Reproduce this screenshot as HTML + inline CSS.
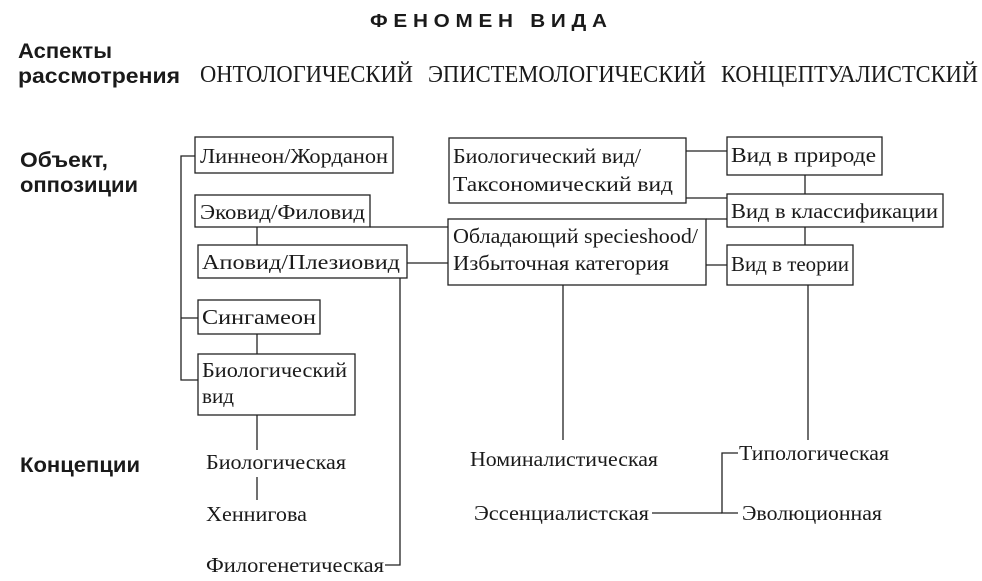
<!DOCTYPE html>
<html><head><meta charset="utf-8"><style>
html,body{margin:0;padding:0;background:#fff;}
svg{display:block;}
.s{font-family:"Liberation Serif",serif;font-size:21px;fill:#1a1a1a;}
.b{font-family:"Liberation Sans",sans-serif;font-weight:bold;font-size:21px;fill:#1a1a1a;}
.a{font-family:"Liberation Serif",serif;font-size:24px;fill:#1a1a1a;}
rect{fill:#fff;stroke:#222;stroke-width:1.3;}
line,polyline{stroke:#222;stroke-width:1.3;fill:none;}
</style></head><body>
<svg width="982" height="581" viewBox="0 0 982 581">
<text class="b" x="370" y="27" textLength="237" lengthAdjust="spacingAndGlyphs" style="font-size:18px">Ф Е Н О М Е Н &#160; В И Д А</text>
<text class="b" x="18" y="58" textLength="94" lengthAdjust="spacingAndGlyphs">Аспекты</text>
<text class="b" x="18" y="83" textLength="162" lengthAdjust="spacingAndGlyphs">рассмотрения</text>
<text class="a" x="200" y="82" textLength="213" lengthAdjust="spacingAndGlyphs">ОНТОЛОГИЧЕСКИЙ</text>
<text class="a" x="428" y="82" textLength="278" lengthAdjust="spacingAndGlyphs">ЭПИСТЕМОЛОГИЧЕСКИЙ</text>
<text class="a" x="721" y="82" textLength="257" lengthAdjust="spacingAndGlyphs">КОНЦЕПТУАЛИСТСКИЙ</text>
<text class="b" x="20" y="167" textLength="88" lengthAdjust="spacingAndGlyphs">Объект,</text>
<text class="b" x="20" y="192" textLength="118" lengthAdjust="spacingAndGlyphs">оппозиции</text>
<text class="b" x="20" y="472" textLength="120" lengthAdjust="spacingAndGlyphs">Концепции</text>

<polyline points="195,156 181,156 181,380 198,380"/>
<line x1="181" y1="318" x2="198" y2="318"/>
<line x1="257" y1="227" x2="257" y2="245"/>
<line x1="257" y1="334" x2="257" y2="354"/>
<line x1="257" y1="415" x2="257" y2="450"/>
<line x1="257" y1="477" x2="257" y2="500"/>
<line x1="370" y1="227" x2="448" y2="227"/>
<line x1="407" y1="263" x2="448" y2="263"/>
<polyline points="400,278 400,565 385,565"/>
<line x1="686" y1="151" x2="727" y2="151"/>
<line x1="686" y1="198" x2="727" y2="198"/>
<line x1="706" y1="219" x2="727" y2="219"/>
<line x1="706" y1="265" x2="727" y2="265"/>
<line x1="805" y1="175" x2="805" y2="194"/>
<line x1="805" y1="227" x2="805" y2="245"/>
<line x1="563" y1="285" x2="563" y2="440"/>
<line x1="808" y1="285" x2="808" y2="440"/>
<polyline points="738,453 722,453 722,513 738,513"/>
<line x1="652" y1="513" x2="722" y2="513"/>

<rect x="195" y="137" width="198" height="36"/>
<text class="s" x="200" y="163" textLength="188" lengthAdjust="spacingAndGlyphs">Линнеон/Жорданон</text>
<rect x="195" y="195" width="175" height="32"/>
<text class="s" x="200" y="219" textLength="165" lengthAdjust="spacingAndGlyphs">Эковид/Филовид</text>
<rect x="198" y="245" width="209" height="33"/>
<text class="s" x="202" y="269" textLength="198" lengthAdjust="spacingAndGlyphs">Аповид/Плезиовид</text>
<rect x="198" y="300" width="122" height="34"/>
<text class="s" x="202" y="324" textLength="114" lengthAdjust="spacingAndGlyphs">Сингамеон</text>
<rect x="198" y="354" width="157" height="61"/>
<text class="s" x="202" y="377" textLength="145" lengthAdjust="spacingAndGlyphs">Биологический</text>
<text class="s" x="202" y="403" textLength="32" lengthAdjust="spacingAndGlyphs">вид</text>
<rect x="449" y="138" width="237" height="65"/>
<text class="s" x="453" y="163" textLength="188" lengthAdjust="spacingAndGlyphs">Биологический вид/</text>
<text class="s" x="453" y="191" textLength="220" lengthAdjust="spacingAndGlyphs">Таксономический вид</text>
<rect x="448" y="219" width="258" height="66"/>
<text class="s" x="453" y="243" textLength="245" lengthAdjust="spacingAndGlyphs">Обладающий specieshood/</text>
<text class="s" x="453" y="270" textLength="216" lengthAdjust="spacingAndGlyphs">Избыточная категория</text>
<rect x="727" y="137" width="155" height="38"/>
<text class="s" x="731" y="162" textLength="145" lengthAdjust="spacingAndGlyphs">Вид в природе</text>
<rect x="727" y="194" width="216" height="33"/>
<text class="s" x="731" y="218" textLength="207" lengthAdjust="spacingAndGlyphs">Вид в классификации</text>
<rect x="727" y="245" width="126" height="40"/>
<text class="s" x="731" y="271" textLength="118" lengthAdjust="spacingAndGlyphs">Вид в теории</text>

<text class="s" x="206" y="469" textLength="140" lengthAdjust="spacingAndGlyphs">Биологическая</text>
<text class="s" x="206" y="521" textLength="101" lengthAdjust="spacingAndGlyphs">Хеннигова</text>
<text class="s" x="206" y="572" textLength="178" lengthAdjust="spacingAndGlyphs">Филогенетическая</text>
<text class="s" x="470" y="466" textLength="188" lengthAdjust="spacingAndGlyphs">Номиналистическая</text>
<text class="s" x="474" y="520" textLength="175" lengthAdjust="spacingAndGlyphs">Эссенциалистская</text>
<text class="s" x="739" y="460" textLength="150" lengthAdjust="spacingAndGlyphs">Типологическая</text>
<text class="s" x="742" y="520" textLength="140" lengthAdjust="spacingAndGlyphs">Эволюционная</text>
</svg>
</body></html>
